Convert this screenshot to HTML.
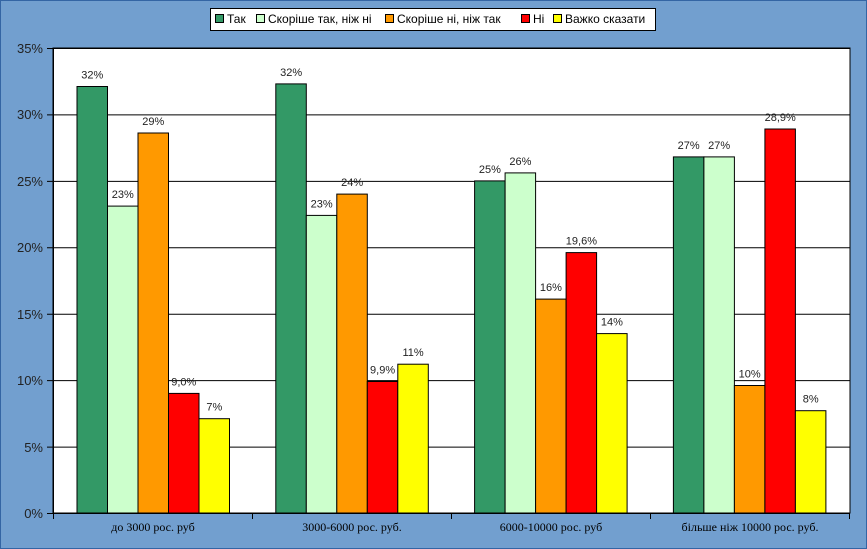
<!DOCTYPE html>
<html><head><meta charset="utf-8"><style>body{margin:0}svg{display:block}</style></head><body>
<svg width="867" height="549" xmlns="http://www.w3.org/2000/svg" font-family="Liberation Sans, DejaVu Sans, sans-serif">
<rect x="0" y="0" width="867" height="549" fill="#729fcf"/>
<rect x="0.5" y="0.5" width="866" height="548" fill="none" stroke="#3465a4"/>
<rect x="53" y="48" width="797" height="465" fill="#fff" stroke="#000"/>
<g stroke="#000" stroke-width="1">
<line x1="47" y1="48.5" x2="850" y2="48.5"/>
<line x1="47" y1="114.9" x2="850" y2="114.9"/>
<line x1="47" y1="181.4" x2="850" y2="181.4"/>
<line x1="47" y1="247.8" x2="850" y2="247.8"/>
<line x1="47" y1="314.2" x2="850" y2="314.2"/>
<line x1="47" y1="380.6" x2="850" y2="380.6"/>
<line x1="47" y1="447.1" x2="850" y2="447.1"/>
<line x1="47" y1="513.5" x2="850" y2="513.5"/>
<line x1="53.5" y1="48" x2="53.5" y2="519"/>
<line x1="252.5" y1="513" x2="252.5" y2="519"/>
<line x1="451.5" y1="513" x2="451.5" y2="519"/>
<line x1="650.5" y1="513" x2="650.5" y2="519"/>
<line x1="849.5" y1="513" x2="849.5" y2="519"/>
</g>
<g font-size="13" fill="#222" text-anchor="end">
<text x="43" y="53">35%</text><text x="43" y="119">30%</text><text x="43" y="186">25%</text>
<text x="43" y="252">20%</text><text x="43" y="319">15%</text><text x="43" y="385">10%</text>
<text x="43" y="452">5%</text><text x="43" y="518">0%</text>
</g>
<g font-family="Liberation Serif, DejaVu Serif, serif" font-size="12" fill="#000" text-anchor="middle">
<text x="153" y="531">до 3000 рос. руб</text>
<text x="352" y="531">3000-6000 рос. руб.</text>
<text x="551" y="531">6000-10000 рос. руб</text>
<text x="750" y="531">більше ніж 10000 рос. руб.</text>
</g>
<g id="bars" stroke="#000" stroke-width="1"></g>
<g id="labels" font-size="11" fill="#222" text-anchor="middle"></g>
<rect x="210.5" y="8.5" width="445" height="22" fill="#fff" stroke="#000"/>
<g stroke="#000" font-size="12" fill="#000">
<rect x="215.5" y="14.5" width="8" height="8" fill="#339966"/>
<rect x="256.5" y="14.5" width="8" height="8" fill="#ccffcc"/>
<rect x="385.5" y="14.5" width="8" height="8" fill="#ff9900"/>
<rect x="521.5" y="14.5" width="8" height="8" fill="#ff0000"/>
<rect x="553.5" y="14.5" width="8" height="8" fill="#ffff00"/>
</g>
<g font-size="12" fill="#000">
<text x="227" y="23">Так</text>
<text x="268" y="23">Скоріше так, ніж ні</text>
<text x="397" y="23">Скоріше ні, ніж так</text>
<text x="533" y="23">Ні</text>
<text x="565" y="23">Важко сказати</text>
</g>
<script>
var data=[[32.1,23.1,28.6,9.0,7.1],[32.3,22.4,24.0,9.9,11.2],[25.0,25.6,16.1,19.6,13.5],[26.8,26.8,9.6,28.9,7.7]];
var lab=[["32%","23%","29%","9,0%","7%"],["32%","23%","24%","9,9%","11%"],["25%","26%","16%","19,6%","14%"],["27%","27%","10%","28,9%","8%"]];
var col=["#339966","#ccffcc","#ff9900","#ff0000","#ffff00"];
var b=document.getElementById("bars"),l=document.getElementById("labels"),ns="http://www.w3.org/2000/svg";
for(var g=0;g<4;g++)for(var i=0;i<5;i++){var x=77+g*198.8+i*30.5,h=data[g][i]*13.286,y=513-h;
var r=document.createElementNS(ns,"rect");r.setAttribute("x",x.toFixed(1));r.setAttribute("y",y.toFixed(1));r.setAttribute("width","30.5");r.setAttribute("height",h.toFixed(1));r.setAttribute("fill",col[i]);b.appendChild(r);
var t=document.createElementNS(ns,"text");t.setAttribute("x",(x+15.25).toFixed(1));t.setAttribute("y",(y-8).toFixed(1));t.textContent=lab[g][i];l.appendChild(t);}
</script>
</svg>
</body></html>
